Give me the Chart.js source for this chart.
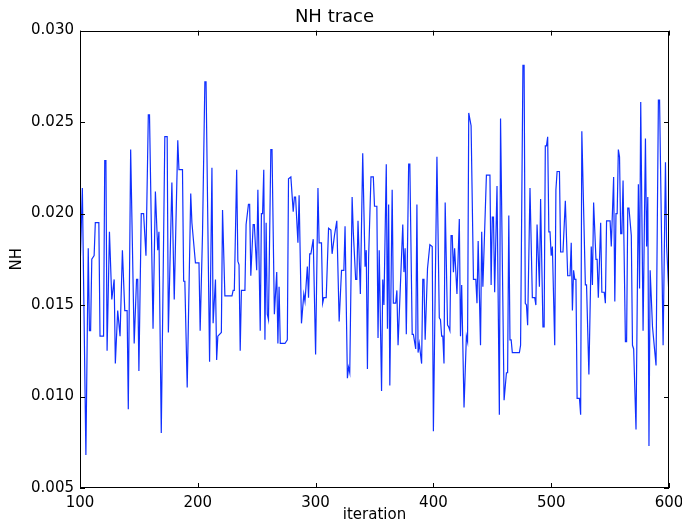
<!DOCTYPE html>
<html>
<head>
<meta charset="utf-8">
<title>NH trace</title>
<script src="https://cdn.jsdelivr.net/npm/chart.js@4.4.1/dist/chart.umd.min.js"></script>
<style>
  html, body { margin: 0; padding: 0; background: #fff; }
  #wrap { width: 682px; height: 524px; position: relative; }
</style>
</head>
<body>
<div id="wrap"><canvas id="trace"></canvas></div>
<script>
const iterations = [
  100,102,105,107,108,109,110,112,113,116,117,120,121,122,123,125,127,129,130,132,134,136,138,140,141,
  143,146,148,149,150,152,154,156,158,159,162,164,166,167,169,172,174,175,178,180,183,
  184,187,188,189,191,194,195,198,201,202,204,206,207,210,212,213,215,216,217,220,221,223,229,
  230,231,233,234,235,236,237,240,241,243,244,245,247,248,250,251,253,254,255,256,257,258,259,260,262,263,265,267,268,269,
  270,274,276,277,279,281,282,283,285,286,288,290,291,293,294,295,296,298,300,302,303,305,306,307,309,311,
  313,314,316,318,320,322,324,325,327,328,329,331,332,334,335,336,338,340,342,343,344,345,347,349,350,352,353,354,
  356,357,358,360,361,362,363,365,366,368,369,370,374,375,376,377,379,380,382,383,385,386,387,388,390,391,392,393,395,397,
  399,400,403,405,406,407,408,409,410,412,413,414,415,416,417,418,420,422,423,424,426,428,429,430,432,434,436,437,438,
  440,441,442,445,448,449,450,451,452,454,456,457,460,462,463,464,465,466,467,473,474,476,477,478,479,480,
  482,484,486,487,488,490,491,493,494,495,496,497,498,499,500,501,503,504,505,507,508,510,512,514,516,517,518,519,520,521,522,524,
  525,526,529,530,532,534,535,536,538,539,540,542,543,545,546,547,550,551,553,554,555,556,557,558,559,560,561,563,564,565,566,
  568,569,570,572,574,575,576,578,580,581,582,583,584,586,589,591,592,595,597,598,600
];
const nhValues = [
  .0168,.0214,.0068,.0181,.0136,.0136,.0175,.0177,.0195,.0195,.0133,.0133,.0229,.0229,.0125,.0190,.0153,.0164,.0118,.0147,.0133,.0180,.0147,.0147,.0093,
  .0235,.0129,.0164,.0164,.0114,.0200,.0200,.0177,.0254,.0254,.0137,.0212,.0180,.0190,.0080,.0242,.0242,.0135,.0217,.0153,.0240,
  .0224,.0224,.0163,.0163,.0105,.0211,.0195,.0173,.0173,.0136,.0189,.0272,.0272,.0119,.0225,.0140,.0164,.0120,.0133,.0135,.0202,.0155,.0155,
  .0158,.0158,.0224,.0174,.0172,.0125,.0158,.0158,.0194,.0205,.0205,.0166,.0194,.0194,.0169,.0213,.0136,.0200,.0200,.0224,.0131,.0195,.0145,.0142,.0235,.0235,.0145,.0168,.0129,.0160,
  .0129,.0129,.0131,.0219,.0220,.0201,.0209,.0209,.0184,.0210,.0140,.0156,.0152,.0171,.0154,.0178,.0178,.0186,.0123,.0214,.0184,.0184,.0151,.0154,.0154,.0192,
  .0191,.0178,.0188,.0196,.0141,.0169,.0169,.0193,.0110,.0116,.0113,.0209,.0190,.0164,.0164,.0196,.0156,.0233,.0171,.0180,.0115,.0176,.0220,.0220,.0204,.0204,.0132,.0180,
  .0103,.0164,.0150,.0227,.0137,.0205,.0106,.0213,.0151,.0151,.0158,.0128,.0194,.0168,.0181,.0134,.0227,.0227,.0134,.0134,.0126,.0205,.0124,.0129,.0118,.0164,.0164,.0131,.0170,.0183,
  .0182,.0081,.0231,.0143,.0142,.0133,.0133,.0118,.0206,.0139,.0138,.0136,.0188,.0188,.0168,.0181,.0156,.0197,.0133,.0161,.0094,.0133,.0130,.0255,.0248,.0164,.0164,.0151,.0185,
  .0128,.0190,.0160,.0221,.0221,.0161,.0198,.0198,.0157,.0215,.0090,.0252,.0098,.0113,.0113,.0199,.0131,.0131,.0124,.0124,.0128,.0281,.0281,.0151,.0150,.0139,
  .0214,.0154,.0154,.0150,.0194,.0160,.0208,.0138,.0138,.0237,.0237,.0242,.0190,.0190,.0177,.0182,.0128,.0213,.0223,.0223,.0179,.0179,.0207,.0166,.0166,.0184,.0147,.0169,.0164,.0164,.0099,.0099,
  .0090,.0245,.0161,.0161,.0112,.0182,.0161,.0206,.0175,.0175,.0154,.0195,.0157,.0157,.0151,.0196,.0196,.0182,.0220,.0152,.0200,.0200,.0235,.0231,.0189,.0189,.0218,.0130,.0130,.0203,.0203,
  .0188,.0128,.0126,.0082,.0216,.0159,.0261,.0136,.0241,.0182,.0209,.0073,.0169,.0138,.0117,.0262,.0262,.0128,.0228,.0182,.0155
];
const xTicks = [100, 200, 300, 400, 500, 600];
const yTicks = [0.005, 0.010, 0.015, 0.020, 0.025, 0.030];

if (iterations.length !== nhValues.length) console.error("length mismatch", iterations.length, nhValues.length);

const FONT = "'DejaVu Sans', sans-serif";

/* matplotlib-ish frame: box + inward ticks on all four sides */
const framePlugin = {
  id: "frame",
  afterDatasetsDraw(chart) {
    const { ctx, chartArea: a, scales: { x, y } } = chart;
    const L = 5;
    ctx.save();
    ctx.strokeStyle = "#000";
    ctx.lineWidth = 1;
    ctx.beginPath();
    xTicks.forEach(v => {
      const px = Math.round(x.getPixelForValue(v)) + 0.5;
      ctx.moveTo(px, a.bottom); ctx.lineTo(px, a.bottom - L);
      ctx.moveTo(px, a.top); ctx.lineTo(px, a.top + L);
    });
    yTicks.forEach(v => {
      const py = Math.round(y.getPixelForValue(v)) + 0.5;
      ctx.moveTo(a.left, py); ctx.lineTo(a.left + L, py);
      ctx.moveTo(a.right, py); ctx.lineTo(a.right - L, py);
    });
    ctx.stroke();
    ctx.strokeRect(Math.round(a.left) + 0.5, Math.round(a.top) + 0.5,
                   Math.round(a.width) - 1, Math.round(a.height) - 1);
    ctx.restore();
  }
};

new Chart(document.getElementById("trace"), {
  type: "line",
  data: {
    datasets: [{
      data: iterations.map((it, i) => ({ x: it, y: nhValues[i] })),
      borderColor: "#1030ff",
      borderWidth: 1.2,
      pointRadius: 0,
      tension: 0,
      fill: false,
    }],
  },
  options: {
    responsive: true,
    maintainAspectRatio: false,
    animation: false,
    layout: { padding: { left: 0, right: 13, top: 0, bottom: 0 } },
    plugins: {
      legend: { display: false },
      tooltip: { enabled: false },
      title: {
        display: true,
        text: "NH trace",
        color: "#000",
        font: { family: FONT, size: 18, weight: "normal" },
        padding: { top: 7, bottom: 2 },
      },
    },
    scales: {
      x: {
        type: "linear",
        min: 100, max: 600,
        afterBuildTicks: s => { s.ticks = xTicks.map(v => ({ value: v })); },
        afterFit: s => { s.height = 36; s.paddingLeft = 0; s.paddingRight = 0; },
        grid: { display: false, drawTicks: false },
        border: { display: false },
        ticks: {
          color: "#000", padding: 6,
          font: { family: FONT, size: 15 },
          maxRotation: 0,
        },
        title: {
          display: true, text: "iteration", color: "#000",
          font: { family: FONT, size: 15 },
          padding: { top: 0, bottom: 0 },
        },
      },
      y: {
        min: 0.005, max: 0.030,
        afterBuildTicks: s => { s.ticks = yTicks.map(v => ({ value: v })); },
        afterFit: s => { s.width = 80; s.paddingTop = 0; s.paddingBottom = 0; },
        grid: { display: false, drawTicks: false },
        border: { display: false },
        ticks: {
          color: "#000", padding: 6,
          font: { family: FONT, size: 15 },
          callback: v => v.toFixed(3),
        },
        title: {
          display: true, text: "NH", color: "#000",
          font: { family: FONT, size: 15 },
          padding: { top: 8, bottom: 8 },
        },
      },
    },
  },
  plugins: [framePlugin],
});
</script>
</body>
</html>
